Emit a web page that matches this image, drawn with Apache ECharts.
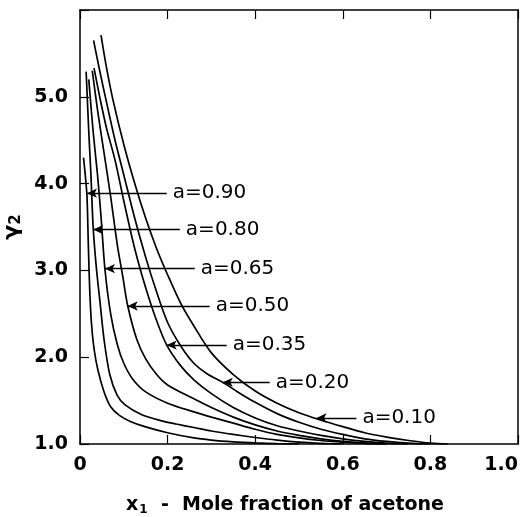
<!DOCTYPE html>
<html><head><meta charset="utf-8">
<script src="https://cdn.jsdelivr.net/npm/echarts@6/dist/echarts.min.js"></script>
<style>html,body{margin:0;padding:0;background:#fff}#c{width:525px;height:517px}</style>
</head><body><div id="c"></div>
<script>
const xTickLabels = ['0', '0.2', '0.4', '0.6', '0.8', '1.0'];
const yTickLabels = ['1.0', '2.0', '3.0', '4.0', '5.0', ''];
const aLabels = ['a=0.10', 'a=0.20', 'a=0.35', 'a=0.50', 'a=0.65', 'a=0.80', 'a=0.90'];

const curveA010 = [[0.048,5.71],[0.06,5.35],[0.075,4.97],[0.1,4.45],[0.125,4.0],[0.15,3.6],[0.175,3.25],[0.2,2.95],[0.23,2.62],[0.26,2.36],[0.3,2.05],[0.35,1.8],[0.4,1.61],[0.45,1.47],[0.5,1.36],[0.547,1.28],[0.6,1.2],[0.65,1.13],[0.7,1.08],[0.75,1.04],[0.8,1.01],[0.84,1.0]];
const curveA020 = [[0.031,5.65],[0.045,5.3],[0.06,4.95],[0.08,4.5],[0.1,4.1],[0.125,3.6],[0.15,3.15],[0.175,2.75],[0.2,2.4],[0.23,2.13],[0.26,1.93],[0.29,1.81],[0.326,1.71],[0.36,1.6],[0.4,1.48],[0.45,1.35],[0.5,1.25],[0.55,1.17],[0.6,1.11],[0.65,1.06],[0.7,1.03],[0.75,1.01],[0.8,1.0]];
const curveA035 = [[0.032,5.33],[0.045,5.0],[0.06,4.65],[0.08,4.27],[0.1,3.8],[0.125,3.25],[0.15,2.8],[0.175,2.42],[0.198,2.14],[0.23,1.9],[0.26,1.74],[0.3,1.58],[0.35,1.42],[0.4,1.3],[0.45,1.21],[0.5,1.15],[0.55,1.1],[0.6,1.06],[0.65,1.03],[0.7,1.01],[0.75,1.0]];
const curveA050 = [[0.028,5.3],[0.04,4.85],[0.055,4.35],[0.07,3.85],[0.085,3.3],[0.098,2.92],[0.109,2.59],[0.13,2.2],[0.15,1.98],[0.175,1.8],[0.2,1.68],[0.26,1.52],[0.3,1.42],[0.35,1.31],[0.4,1.22],[0.45,1.15],[0.5,1.1],[0.55,1.06],[0.6,1.03],[0.65,1.012],[0.7,1.0]];
const curveA065 = [[0.02,5.2],[0.03,4.6],[0.04,4.1],[0.048,3.62],[0.057,3.01],[0.07,2.5],[0.085,2.15],[0.1,1.93],[0.12,1.75],[0.15,1.6],[0.2,1.47],[0.26,1.37],[0.3,1.31],[0.35,1.24],[0.4,1.17],[0.45,1.11],[0.5,1.07],[0.55,1.04],[0.6,1.02],[0.65,1.005],[0.7,1.0]];
const curveA080 = [[0.014,5.29],[0.02,4.6],[0.025,4.1],[0.03,3.5],[0.037,3.05],[0.046,2.62],[0.055,2.2],[0.068,1.8],[0.085,1.56],[0.103,1.45],[0.14,1.34],[0.184,1.27],[0.22,1.23],[0.26,1.19],[0.3,1.15],[0.35,1.11],[0.4,1.075],[0.45,1.045],[0.5,1.022],[0.55,1.008],[0.6,1.0]];
const curveA090 = [[0.008,4.3],[0.012,4.1],[0.016,3.85],[0.019,3.3],[0.022,2.8],[0.026,2.4],[0.032,2.1],[0.041,1.85],[0.055,1.6],[0.07,1.43],[0.09,1.33],[0.115,1.26],[0.148,1.2],[0.2,1.13],[0.26,1.07],[0.3,1.045],[0.35,1.025],[0.4,1.012],[0.45,1.004],[0.5,1.0]];

const curves = [curveA010, curveA020, curveA035, curveA050, curveA065, curveA080, curveA090];
// label arrows: gamma level, arrow tip x1, arrow tail x1
const arrowGamma = [1.30, 1.71, 2.14, 2.59, 3.02, 3.47, 3.89];
const arrowTipX  = [0.54, 0.326, 0.198, 0.109, 0.057, 0.030, 0.016];
const arrowEndX  = [0.631, 0.433, 0.335, 0.296, 0.262, 0.228, 0.198];

const chart = echarts.init(document.getElementById('c'), null, {renderer: 'canvas'});
const FONT = 'DejaVu Sans';
const series = curves.map((c, i) => ({
  type: 'line',
  data: c,
  showSymbol: false,
  smooth: 0.3,
  lineStyle: {color: '#000', width: 1.7},
  silent: true,
  markLine: {
    silent: true,
    symbol: ['arrow', 'none'],
    symbolSize: [7, 10],
    lineStyle: {color: '#000', width: 1.3, type: 'solid'},
    label: {show: true, position: 'end', distance: 6, formatter: aLabels[i], color: '#000', fontSize: 20, fontFamily: FONT},
    data: [[{coord: [arrowTipX[i], arrowGamma[i]]}, {coord: [arrowEndX[i], arrowGamma[i]]}]]
  }
}));

chart.setOption({
  animation: false,
  backgroundColor: '#fff',
  grid: {left: 80, right: 7, top: 10, bottom: 73, containLabel: false, outerBoundsMode: 'none'},
  xAxis: [{
    type: 'value', min: 0, max: 1, interval: 0.2,
    axisLine: {show: true, onZero: false, lineStyle: {color: '#000', width: 1.5}},
    axisTick: {show: true, inside: true, length: 9, lineStyle: {color: '#000', width: 1.2}},
    splitLine: {show: false},
    axisLabel: {margin: 12, color: '#000', fontSize: 19, fontWeight: 'bold', fontFamily: FONT,
      alignMaxLabel: 'right',
      formatter: v => xTickLabels[Math.round(v / 0.2)]},
    name: '{x|x}{s|1}{t|  -  Mole fraction of acetone}',
    nameLocation: 'middle', nameGap: 50,
    nameTextStyle: {padding: [0, 28, 0, 0], rich: {
      x: {fontSize: 19, fontWeight: 'bold', fontFamily: FONT, color: '#000'},
      s: {fontSize: 12, fontWeight: 'bold', fontFamily: FONT, color: '#000', verticalAlign: 'bottom', padding: [10, 0, 0, 1]},
      t: {fontSize: 19, fontWeight: 'bold', fontFamily: FONT, color: '#000'}
    }}
  }, {
    type: 'value', min: 0, max: 1, interval: 0.2, position: 'top',
    axisLine: {show: true, onZero: false, lineStyle: {color: '#000', width: 1.5}},
    axisTick: {show: true, inside: true, length: 9, lineStyle: {color: '#000', width: 1.2}},
    axisLabel: {show: false}, splitLine: {show: false}
  }],
  yAxis: [{
    type: 'value', min: 1, max: 6, interval: 1,
    axisLine: {show: true, onZero: false, lineStyle: {color: '#000', width: 1.5}},
    axisTick: {show: true, inside: true, length: 9, lineStyle: {color: '#000', width: 1.2}},
    splitLine: {show: false},
    axisLabel: {margin: 12, color: '#000', fontSize: 19, fontWeight: 'bold', fontFamily: FONT,
      formatter: v => yTickLabels[Math.round(v - 1)]},
    name: '{g|γ}{s|2}',
    nameLocation: 'middle', nameGap: 50, nameRotate: 90,
    nameTextStyle: {rich: {
      g: {fontSize: 22, fontWeight: 'bold', fontFamily: FONT, color: '#000'},
      s: {fontSize: 15, fontWeight: 'bold', fontFamily: FONT, color: '#000', padding: [8, 0, 0, 0]}
    }}
  }, {
    type: 'value', min: 1, max: 6, interval: 1, position: 'right',
    axisLine: {show: true, onZero: false, lineStyle: {color: '#000', width: 1.5}},
    axisTick: {show: false}, axisLabel: {show: false}, splitLine: {show: false}
  }],
  series: series
});
</script>
</body></html>
